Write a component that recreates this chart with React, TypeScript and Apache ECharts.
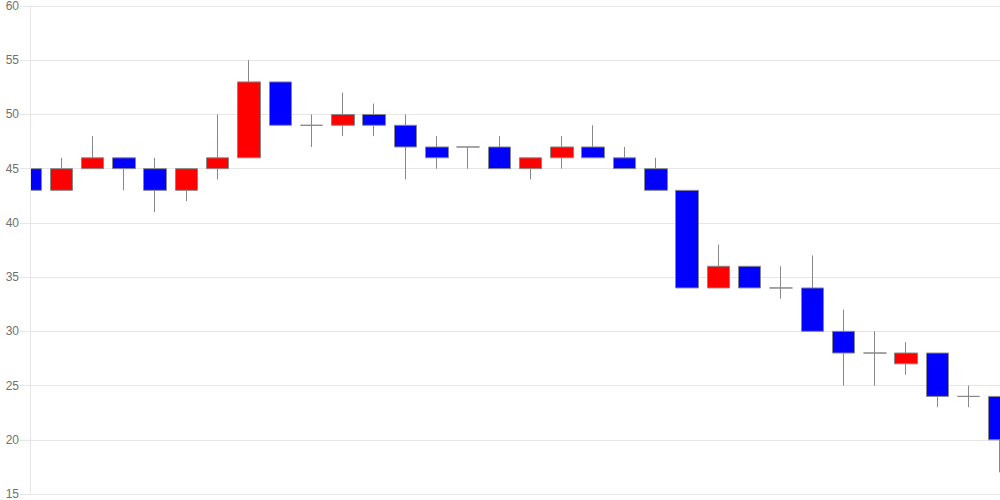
import React, { useEffect, useRef } from "react";
import * as echarts from "echarts";

const categories = [
  "1", "2", "3", "4", "5", "6", "7", "8", "9", "10", "11", "12", "13", "14", "15", "16",
  "17", "18", "19", "20", "21", "22", "23", "24", "25", "26", "27", "28", "29", "30", "31", "32",
];
const opens = [45, 43, 45, 46, 45, 43, 45, 46, 53, 49, 49, 50, 49, 47, 47, 47, 45, 46, 47, 46, 45, 43, 34, 36, 34, 34, 30, 28, 27, 28, 24, 24];
const closes = [43, 45, 46, 45, 43, 45, 46, 53, 49, 49, 50, 49, 47, 46, 47, 45, 46, 47, 46, 45, 43, 34, 36, 34, 34, 30, 28, 28, 28, 24, 24, 20];
const lows = [43, 43, 45, 43, 41, 42, 44, 46, 49, 47, 48, 48, 44, 45, 45, 45, 44, 45, 46, 45, 43, 34, 34, 34, 33, 30, 25, 25, 26, 23, 23, 17];
const highs = [46, 46, 48, 46, 46, 45, 50, 55, 53, 50, 52, 51, 50, 48, 47, 48, 46, 48, 49, 47, 46, 43, 38, 36, 36, 37, 32, 30, 29, 28, 25, 24];
const yMin = 15;
const yMax = 60;
const yStep = 5;

export default function App() {
  const ref = useRef<HTMLDivElement>(null);
  useEffect(() => {
    if (!ref.current) return;
    const chart = echarts.init(ref.current, undefined, { renderer: "svg" });
    const data = categories.map((_, i) => [opens[i], closes[i], lows[i], highs[i]]);
    const labelStyle = {
      color: "#707070",
      fontSize: 12,
      fontFamily: "Liberation Sans, Arial, sans-serif",
      margin: 11,
    };
    chart.setOption({
      animation: false,
      grid: { left: 30, right: 0, top: 6, bottom: 6, containLabel: false },
      xAxis: {
        type: "category",
        data: categories,
        boundaryGap: false,
        axisLine: { show: true, lineStyle: { color: "#e6e6e6" } },
        axisTick: { show: false },
        axisLabel: { show: false },
        splitLine: { show: false },
      },
      yAxis: [
        {
          type: "value",
          min: yMin,
          max: yMax,
          interval: yStep,
          axisLine: { show: false },
          axisTick: { show: false },
          axisLabel: { show: false },
          splitLine: { show: true, lineStyle: { color: "#e6e6e6" } },
        },
        {
          type: "value",
          position: "left",
          min: yMin,
          max: yMax,
          interval: yStep,
          z: 10,
          axisLine: { show: true, lineStyle: { color: "#e6e6e6" } },
          axisTick: { show: true, length: 10, lineStyle: { color: "#e6e6e6" } },
          axisLabel: labelStyle,
          splitLine: { show: false },
        },
      ],
      graphic: [
        {
          type: "rect",
          z: 5,
          silent: true,
          shape: { x: 0, y: 0, width: 30, height: 500 },
          style: { fill: "#fff" },
        },
      ],
      series: [
        {
          type: "candlestick",
          data,
          barWidth: 23,
          clip: true,
          itemStyle: {
            color: "#ff0000",
            color0: "#0000ff",
            borderColor: "#888",
            borderColor0: "#888",
            borderColorDoji: "#888",
            borderWidth: 1,
          },
        },
      ],
    });
    return () => chart.dispose();
  }, []);
  return (
    <div
      ref={ref}
      style={{ position: "fixed", left: 0, top: 0, width: 1000, height: 500, background: "#fff" }}
    />
  );
}
